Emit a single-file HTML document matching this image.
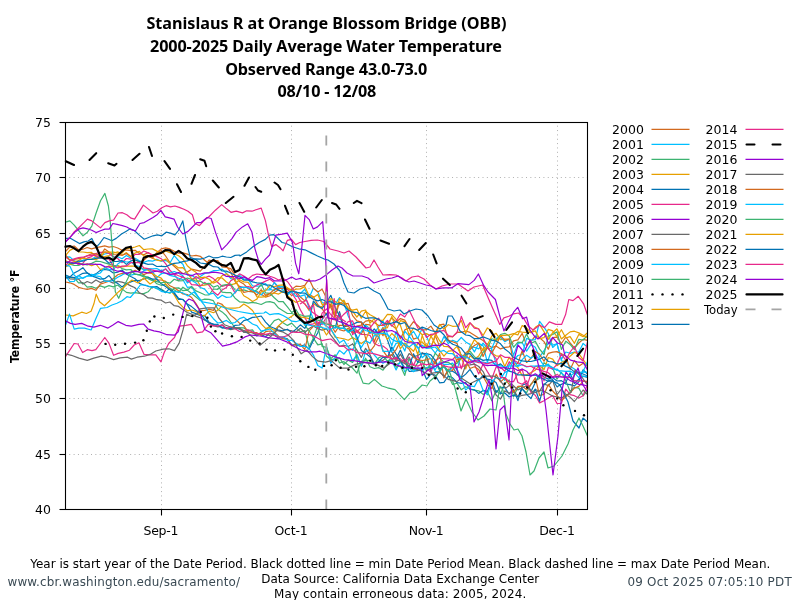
<!DOCTYPE html>
<html><head><meta charset="utf-8"><title>Stanislaus R at Orange Blossom Bridge (OBB)</title>
<style>html,body{margin:0;padding:0;background:#fff;overflow:hidden}svg{display:block}</style>
</head><body>
<svg width="800" height="600" viewBox="0 0 800 600">
<rect width="800" height="600" fill="#fff"/>
<g stroke="#b0b0b0" stroke-width="1" stroke-dasharray="1 3.35" fill="none">
<line x1="65.5" x2="587.5" y1="177.5" y2="177.5" stroke-dashoffset="0.6"/>
<line x1="65.5" x2="587.5" y1="233.5" y2="233.5" stroke-dashoffset="0.6"/>
<line x1="65.5" x2="587.5" y1="288.5" y2="288.5" stroke-dashoffset="0.6"/>
<line x1="65.5" x2="587.5" y1="343.5" y2="343.5" stroke-dashoffset="0.6"/>
<line x1="65.5" x2="587.5" y1="398.5" y2="398.5" stroke-dashoffset="0.6"/>
<line x1="65.5" x2="587.5" y1="454.5" y2="454.5" stroke-dashoffset="0.6"/>
<line x1="161.5" x2="161.5" y1="509.5" y2="122.5"/>
<line x1="291.5" x2="291.5" y1="509.5" y2="122.5"/>
<line x1="426.5" x2="426.5" y1="509.5" y2="122.5"/>
<line x1="557.5" x2="557.5" y1="509.5" y2="122.5"/>
</g>
<polyline points="65.5,251.5 69.8,246.9 74.2,246.0 78.5,249.8 82.9,249.3 87.2,247.5 91.6,248.8 95.9,247.7 100.3,246.8 104.7,245.9 109.0,247.1 113.3,246.5 117.7,248.0 122.0,250.3 126.4,249.8 130.8,250.7 135.1,250.3 139.4,253.4 143.8,254.8 148.1,252.6 152.5,255.5 156.8,253.9 161.2,250.4 165.6,256.0 169.9,262.5 174.2,266.3 178.6,270.2 182.9,273.7 187.3,272.0 191.6,269.2 196.0,270.1 200.3,271.2 204.7,266.4 209.0,260.2 213.4,261.2 217.8,260.5 222.1,266.8 226.4,267.5 230.8,268.6 235.1,275.4 239.5,281.6 243.8,284.1 248.2,288.5 252.5,291.7 256.9,291.5 261.2,294.2 265.6,297.1 269.9,295.7 274.3,292.5 278.6,289.7 283.0,292.1 287.4,291.3 291.7,295.6 296.0,291.6 300.4,297.0 304.8,300.9 309.1,294.4 313.4,296.8 317.8,304.7 322.1,309.0 326.5,314.7 330.8,303.9 335.2,318.2 339.5,329.6 343.9,331.0 348.2,328.3 352.6,333.0 356.9,330.2 361.3,334.2 365.6,324.4 370.0,324.8 374.3,342.0 378.7,330.0 383.0,335.7 387.4,321.7 391.8,325.4 396.1,328.9 400.4,338.8 404.8,329.9 409.1,328.0 413.5,339.1 417.8,337.6 422.2,347.6 426.5,345.0 430.9,347.6 435.2,335.3 439.6,346.6 443.9,342.2 448.3,336.4 452.6,336.8 457.0,332.2 461.3,332.3 465.7,331.0 470.0,332.4 474.4,335.2 478.7,338.0 483.1,340.5 487.4,344.4 491.8,347.6 496.1,346.1 500.5,348.9 504.8,347.4 509.2,346.8 513.5,340.9 517.9,339.8 522.2,333.4 526.6,345.4 531.0,341.3 535.3,336.0 539.6,337.7 544.0,341.6 548.3,349.2 552.7,337.5 557.0,337.2 561.4,343.5 565.8,337.0 570.1,342.9 574.4,348.0 578.8,343.0 583.1,339.4 587.5,340.3" fill="none" stroke="#d2691e" stroke-width="1.2" stroke-linejoin="round" />
<polyline points="65.5,257.1 69.8,256.9 74.2,260.8 78.5,262.4 82.9,260.2 87.2,259.4 91.6,259.0 95.9,256.7 100.3,256.1 104.7,254.0 109.0,253.1 113.3,257.0 117.7,256.8 122.0,258.7 126.4,255.6 130.8,258.3 135.1,258.3 139.4,260.8 143.8,262.4 148.1,260.7 152.5,261.2 156.8,259.4 161.2,261.2 165.6,260.3 169.9,263.0 174.2,255.7 178.6,260.7 182.9,264.3 187.3,275.1 191.6,275.0 196.0,278.5 200.3,276.5 204.7,273.5 209.0,272.6 213.4,270.7 217.8,270.5 222.1,269.1 226.4,273.3 230.8,278.7 235.1,279.9 239.5,275.1 243.8,278.9 248.2,279.5 252.5,285.9 256.9,286.1 261.2,285.8 265.6,283.5 269.9,289.1 274.3,290.7 278.6,286.0 283.0,290.3 287.4,295.0 291.7,291.0 296.0,291.8 300.4,293.5 304.8,289.2 309.1,297.8 313.4,288.1 317.8,291.6 322.1,302.7 326.5,303.5 330.8,300.7 335.2,304.2 339.5,297.6 343.9,302.8 348.2,316.0 352.6,324.7 356.9,340.8 361.3,331.4 365.6,325.3 370.0,328.7 374.3,333.2 378.7,326.9 383.0,320.8 387.4,333.9 391.8,345.9 396.1,331.3 400.4,345.2 404.8,331.2 409.1,336.2 413.5,331.3 417.8,338.6 422.2,328.1 426.5,335.7 430.9,347.6 435.2,353.0 439.6,346.8 443.9,336.5 448.3,343.5 452.6,340.3 457.0,342.1 461.3,337.5 465.7,341.9 470.0,344.6 474.4,351.9 478.7,343.4 483.1,345.7 487.4,362.3 491.8,349.2 496.1,363.7 500.5,373.4 504.8,380.4 509.2,364.5 513.5,360.5 517.9,355.5 522.2,354.5 526.6,338.4 531.0,340.1 535.3,339.7 539.6,321.4 544.0,327.2 548.3,333.6 552.7,347.5 557.0,343.6 561.4,359.4 565.8,352.0 570.1,353.3 574.4,352.2 578.8,351.9 583.1,343.5 587.5,347.1" fill="none" stroke="#00bfff" stroke-width="1.2" stroke-linejoin="round" />
<polyline points="65.5,276.5 69.8,277.7 74.2,277.7 78.5,282.8 82.9,282.7 87.2,287.2 91.6,286.6 95.9,288.3 100.3,285.9 104.7,287.4 109.0,285.6 113.3,286.9 117.7,285.0 122.0,288.9 126.4,292.4 130.8,293.2 135.1,292.6 139.4,293.4 143.8,293.6 148.1,291.8 152.5,286.7 156.8,288.6 161.2,289.1 165.6,292.0 169.9,293.3 174.2,288.1 178.6,287.8 182.9,290.7 187.3,290.1 191.6,293.5 196.0,297.0 200.3,300.5 204.7,299.1 209.0,299.4 213.4,300.7 217.8,309.2 222.1,311.9 226.4,315.8 230.8,322.0 235.1,327.8 239.5,327.7 243.8,327.9 248.2,330.5 252.5,329.8 256.9,336.1 261.2,332.0 265.6,329.7 269.9,326.1 274.3,320.6 278.6,319.0 283.0,322.8 287.4,325.4 291.7,323.1 296.0,327.6 300.4,331.8 304.8,330.5 309.1,347.1 313.4,338.1 317.8,344.9 322.1,343.9 326.5,356.2 330.8,359.7 335.2,358.8 339.5,357.8 343.9,364.5 348.2,360.1 352.6,362.4 356.9,354.8 361.3,366.1 365.6,358.2 370.0,366.7 374.3,368.5 378.7,367.6 383.0,370.2 387.4,364.1 391.8,360.1 396.1,364.6 400.4,362.7 404.8,359.5 409.1,367.6 413.5,369.6 417.8,368.7 422.2,370.2 426.5,355.8 430.9,369.2 435.2,361.8 439.6,370.6 443.9,364.7 448.3,375.5 452.6,384.5 457.0,383.2 461.3,389.8 465.7,386.7 470.0,388.7 474.4,390.1 478.7,390.8 483.1,394.4 487.4,391.8 491.8,400.8 496.1,390.5 500.5,394.2 504.8,383.2 509.2,380.0 513.5,396.9 517.9,387.2 522.2,389.3 526.6,392.7 531.0,384.0 535.3,380.6 539.6,378.4 544.0,362.7 548.3,365.2 552.7,367.8 557.0,379.2 561.4,372.3 565.8,380.6 570.1,391.5 574.4,387.3 578.8,388.1 583.1,395.8 587.5,390.4" fill="none" stroke="#3cb371" stroke-width="1.2" stroke-linejoin="round" />
<polyline points="65.5,255.5 69.8,250.4 74.2,248.3 78.5,251.9 82.9,252.0 87.2,252.7 91.6,252.4 95.9,257.2 100.3,257.8 104.7,256.7 109.0,255.6 113.3,253.2 117.7,251.8 122.0,255.4 126.4,252.6 130.8,256.4 135.1,253.0 139.4,251.4 143.8,256.1 148.1,255.4 152.5,258.1 156.8,260.2 161.2,260.8 165.6,259.1 169.9,263.3 174.2,264.7 178.6,267.9 182.9,267.7 187.3,272.8 191.6,278.8 196.0,278.8 200.3,285.6 204.7,285.1 209.0,284.1 213.4,281.7 217.8,277.7 222.1,278.0 226.4,282.0 230.8,284.8 235.1,283.7 239.5,279.7 243.8,281.9 248.2,282.3 252.5,288.7 256.9,296.9 261.2,297.1 265.6,296.7 269.9,293.5 274.3,293.0 278.6,294.1 283.0,291.4 287.4,295.4 291.7,299.5 296.0,302.4 300.4,300.7 304.8,303.6 309.1,310.5 313.4,303.5 317.8,306.7 322.1,306.3 326.5,300.7 330.8,301.0 335.2,314.8 339.5,298.7 343.9,302.0 348.2,308.0 352.6,310.2 356.9,309.1 361.3,318.2 365.6,311.3 370.0,314.7 374.3,317.1 378.7,320.0 383.0,320.3 387.4,314.4 391.8,314.7 396.1,319.3 400.4,325.4 404.8,338.9 409.1,341.1 413.5,342.1 417.8,354.7 422.2,335.3 426.5,347.4 430.9,336.2 435.2,333.1 439.6,340.7 443.9,346.3 448.3,346.7 452.6,350.1 457.0,362.0 461.3,357.6 465.7,369.0 470.0,355.6 474.4,359.2 478.7,355.9 483.1,348.7 487.4,344.9 491.8,336.0 496.1,333.3 500.5,339.7 504.8,339.1 509.2,339.1 513.5,334.3 517.9,331.4 522.2,332.2 526.6,332.3 531.0,332.5 535.3,330.9 539.6,338.6 544.0,337.7 548.3,329.4 552.7,330.9 557.0,336.7 561.4,329.7 565.8,338.0 570.1,336.6 574.4,343.3 578.8,334.4 583.1,336.7 587.5,332.8" fill="none" stroke="#e69f00" stroke-width="1.2" stroke-linejoin="round" />
<polyline points="65.5,275.0 69.8,276.9 74.2,277.7 78.5,275.8 82.9,273.3 87.2,272.9 91.6,275.2 95.9,273.9 100.3,270.4 104.7,269.5 109.0,270.1 113.3,273.0 117.7,272.1 122.0,270.0 126.4,274.1 130.8,276.5 135.1,278.7 139.4,283.4 143.8,285.0 148.1,286.3 152.5,287.2 156.8,286.6 161.2,289.8 165.6,292.7 169.9,288.1 174.2,292.7 178.6,298.3 182.9,299.7 187.3,304.6 191.6,312.1 196.0,313.6 200.3,315.8 204.7,315.4 209.0,322.4 213.4,324.2 217.8,326.3 222.1,327.2 226.4,328.6 230.8,328.1 235.1,327.8 239.5,329.1 243.8,331.8 248.2,332.9 252.5,332.1 256.9,333.9 261.2,334.6 265.6,336.7 269.9,333.1 274.3,335.1 278.6,338.2 283.0,337.7 287.4,338.9 291.7,345.1 296.0,344.6 300.4,346.2 304.8,344.8 309.1,349.3 313.4,340.2 317.8,332.7 322.1,319.4 326.5,313.5 330.8,324.8 335.2,328.2 339.5,311.7 343.9,326.9 348.2,325.8 352.6,324.5 356.9,322.4 361.3,322.0 365.6,326.9 370.0,333.3 374.3,329.0 378.7,334.1 383.0,327.6 387.4,339.9 391.8,352.0 396.1,358.8 400.4,350.1 404.8,360.5 409.1,371.3 413.5,371.1 417.8,370.7 422.2,368.9 426.5,379.3 430.9,374.1 435.2,375.2 439.6,382.8 443.9,382.3 448.3,376.0 452.6,377.8 457.0,382.5 461.3,383.4 465.7,382.5 470.0,389.5 474.4,389.8 478.7,393.4 483.1,390.4 487.4,391.3 491.8,380.3 496.1,392.7 500.5,387.4 504.8,387.7 509.2,394.2 513.5,389.3 517.9,400.6 522.2,385.3 526.6,383.4 531.0,391.4 535.3,382.4 539.6,374.2 544.0,377.0 548.3,379.1 552.7,377.6 557.0,381.0 561.4,380.6 565.8,384.0 570.1,384.7 574.4,385.9 578.8,381.9 583.1,369.8 587.5,374.1" fill="none" stroke="#0072b2" stroke-width="1.2" stroke-linejoin="round" />
<polyline points="65.5,256.9 69.8,259.9 74.2,261.1 78.5,264.9 82.9,263.2 87.2,258.1 91.6,256.6 95.9,253.5 100.3,252.3 104.7,252.2 109.0,253.3 113.3,256.8 117.7,258.5 122.0,262.6 126.4,258.5 130.8,259.1 135.1,254.4 139.4,254.4 143.8,251.0 148.1,252.9 152.5,254.9 156.8,256.6 161.2,258.7 165.6,263.6 169.9,270.2 174.2,274.3 178.6,280.5 182.9,276.4 187.3,281.4 191.6,280.4 196.0,276.5 200.3,279.6 204.7,277.8 209.0,276.1 213.4,278.6 217.8,282.5 222.1,286.3 226.4,285.1 230.8,285.5 235.1,293.1 239.5,286.4 243.8,287.6 248.2,286.6 252.5,287.9 256.9,284.9 261.2,283.4 265.6,281.1 269.9,279.3 274.3,282.6 278.6,288.3 283.0,288.3 287.4,289.4 291.7,293.0 296.0,299.5 300.4,309.9 304.8,317.8 309.1,324.6 313.4,323.8 317.8,321.9 322.1,324.5 326.5,317.2 330.8,318.8 335.2,319.8 339.5,313.5 343.9,326.6 348.2,321.6 352.6,320.9 356.9,332.2 361.3,334.3 365.6,334.5 370.0,335.3 374.3,343.3 378.7,345.7 383.0,346.0 387.4,349.4 391.8,359.7 396.1,357.4 400.4,358.9 404.8,363.3 409.1,357.1 413.5,365.4 417.8,355.8 422.2,367.2 426.5,368.5 430.9,372.2 435.2,360.3 439.6,358.2 443.9,358.8 448.3,358.9 452.6,359.5 457.0,355.1 461.3,368.8 465.7,355.0 470.0,359.6 474.4,363.9 478.7,374.0 483.1,364.1 487.4,371.6 491.8,378.8 496.1,367.0 500.5,367.3 504.8,371.3 509.2,361.7 513.5,367.7 517.9,382.5 522.2,384.2 526.6,380.8 531.0,392.5 535.3,395.3 539.6,402.9 544.0,400.7 548.3,398.1 552.7,395.6 557.0,403.5 561.4,403.4 565.8,389.0 570.1,394.7 574.4,395.7 578.8,398.0 583.1,395.8 587.5,384.4" fill="none" stroke="#e7298a" stroke-width="1.2" stroke-linejoin="round" />
<polyline points="65.5,276.2 69.8,278.8 74.2,279.2 78.5,278.9 82.9,284.1 87.2,281.5 91.6,283.2 95.9,279.9 100.3,282.6 104.7,280.8 109.0,281.2 113.3,283.1 117.7,281.3 122.0,282.1 126.4,283.6 130.8,285.9 135.1,287.8 139.4,292.9 143.8,294.7 148.1,297.9 152.5,298.1 156.8,299.7 161.2,300.2 165.6,303.0 169.9,302.0 174.2,305.7 178.6,306.4 182.9,309.6 187.3,312.5 191.6,314.1 196.0,316.4 200.3,317.8 204.7,320.3 209.0,322.2 213.4,325.6 217.8,326.9 222.1,324.7 226.4,328.3 230.8,329.6 235.1,328.7 239.5,328.2 243.8,332.4 248.2,331.7 252.5,333.0 256.9,335.2 261.2,333.0 265.6,334.7 269.9,335.3 274.3,333.2 278.6,326.1 283.0,329.1 287.4,330.0 291.7,330.8 296.0,332.0 300.4,328.2 304.8,332.5 309.1,328.5 313.4,325.9 317.8,328.7 322.1,330.1 326.5,328.9 330.8,335.2 335.2,340.9 339.5,346.4 343.9,345.2 348.2,346.5 352.6,343.9 356.9,350.1 361.3,357.4 365.6,348.3 370.0,354.7 374.3,364.1 378.7,362.0 383.0,360.4 387.4,356.3 391.8,354.9 396.1,360.9 400.4,354.1 404.8,361.9 409.1,353.6 413.5,356.6 417.8,355.5 422.2,352.7 426.5,356.2 430.9,371.8 435.2,377.3 439.6,370.9 443.9,376.9 448.3,370.6 452.6,366.5 457.0,374.7 461.3,377.4 465.7,365.0 470.0,364.8 474.4,364.1 478.7,366.5 483.1,371.6 487.4,380.7 491.8,385.3 496.1,395.0 500.5,399.1 504.8,390.9 509.2,393.3 513.5,390.2 517.9,396.9 522.2,395.3 526.6,394.7 531.0,393.6 535.3,389.5 539.6,391.2 544.0,383.9 548.3,385.8 552.7,380.3 557.0,394.7 561.4,389.2 565.8,394.3 570.1,397.2 574.4,401.5 578.8,396.0 583.1,390.0 587.5,394.6" fill="none" stroke="#696969" stroke-width="1.2" stroke-linejoin="round" />
<polyline points="65.5,282.0 69.8,282.8 74.2,284.4 78.5,287.3 82.9,288.5 87.2,289.4 91.6,288.4 95.9,290.3 100.3,284.1 104.7,282.7 109.0,281.3 113.3,278.5 117.7,274.7 122.0,273.4 126.4,273.6 130.8,272.3 135.1,270.2 139.4,272.2 143.8,274.6 148.1,272.7 152.5,273.6 156.8,279.8 161.2,280.0 165.6,281.3 169.9,285.8 174.2,287.7 178.6,290.7 182.9,293.9 187.3,294.5 191.6,297.5 196.0,303.6 200.3,310.9 204.7,310.4 209.0,309.2 213.4,310.4 217.8,302.7 222.1,304.4 226.4,309.7 230.8,315.4 235.1,318.8 239.5,323.2 243.8,325.6 248.2,332.1 252.5,332.5 256.9,332.7 261.2,335.5 265.6,331.7 269.9,331.0 274.3,332.2 278.6,336.2 283.0,338.9 287.4,339.4 291.7,346.0 296.0,344.1 300.4,344.3 304.8,349.7 309.1,330.8 313.4,326.3 317.8,323.6 322.1,322.7 326.5,324.1 330.8,324.2 335.2,332.3 339.5,325.4 343.9,325.3 348.2,326.1 352.6,331.8 356.9,326.0 361.3,325.2 365.6,321.1 370.0,320.4 374.3,322.5 378.7,325.5 383.0,325.3 387.4,323.5 391.8,317.9 396.1,321.9 400.4,318.6 404.8,320.1 409.1,327.7 413.5,321.7 417.8,325.5 422.2,330.1 426.5,329.6 430.9,326.1 435.2,332.8 439.6,324.8 443.9,324.2 448.3,340.1 452.6,341.7 457.0,343.4 461.3,355.8 465.7,360.3 470.0,368.5 474.4,366.8 478.7,369.6 483.1,376.3 487.4,384.3 491.8,388.7 496.1,374.1 500.5,381.9 504.8,378.1 509.2,384.5 513.5,392.4 517.9,386.4 522.2,386.1 526.6,389.5 531.0,384.5 535.3,377.7 539.6,395.5 544.0,394.4 548.3,384.4 552.7,391.0 557.0,395.7 561.4,400.5 565.8,396.8 570.1,392.8 574.4,388.1 578.8,386.4 583.1,381.1 587.5,381.4" fill="none" stroke="#d2691e" stroke-width="1.2" stroke-linejoin="round" />
<polyline points="65.5,275.3 69.8,281.7 74.2,281.3 78.5,275.5 82.9,278.5 87.2,276.0 91.6,274.4 95.9,275.9 100.3,276.7 104.7,281.2 109.0,281.3 113.3,280.3 117.7,277.2 122.0,275.1 126.4,272.6 130.8,275.2 135.1,274.1 139.4,274.9 143.8,270.7 148.1,269.4 152.5,271.7 156.8,277.8 161.2,273.7 165.6,273.0 169.9,275.4 174.2,276.3 178.6,278.3 182.9,279.6 187.3,287.3 191.6,286.9 196.0,293.4 200.3,300.2 204.7,305.7 209.0,313.3 213.4,318.7 217.8,323.0 222.1,322.3 226.4,320.4 230.8,323.4 235.1,322.5 239.5,318.6 243.8,317.1 248.2,320.8 252.5,324.0 256.9,325.6 261.2,331.1 265.6,330.2 269.9,328.9 274.3,333.1 278.6,337.2 283.0,336.8 287.4,340.3 291.7,340.3 296.0,343.3 300.4,346.5 304.8,346.3 309.1,348.5 313.4,355.1 317.8,365.5 322.1,368.1 326.5,346.4 330.8,363.3 335.2,357.5 339.5,350.4 343.9,354.0 348.2,348.8 352.6,361.1 356.9,354.7 361.3,365.9 365.6,351.4 370.0,349.5 374.3,355.0 378.7,359.8 383.0,363.2 387.4,360.6 391.8,360.5 396.1,370.0 400.4,360.7 404.8,371.9 409.1,368.1 413.5,371.7 417.8,367.8 422.2,370.3 426.5,367.6 430.9,366.4 435.2,369.7 439.6,361.8 443.9,364.3 448.3,364.4 452.6,363.2 457.0,369.8 461.3,354.8 465.7,358.6 470.0,346.3 474.4,347.3 478.7,348.9 483.1,343.1 487.4,348.4 491.8,348.3 496.1,338.4 500.5,337.4 504.8,341.7 509.2,339.3 513.5,355.4 517.9,343.4 522.2,342.4 526.6,351.2 531.0,344.4 535.3,347.2 539.6,357.1 544.0,350.7 548.3,343.0 552.7,345.1 557.0,343.7 561.4,360.8 565.8,361.6 570.1,366.3 574.4,369.0 578.8,372.5 583.1,371.9 587.5,372.3" fill="none" stroke="#00bfff" stroke-width="1.2" stroke-linejoin="round" />
<polyline points="65.5,266.4 69.8,264.1 74.2,265.4 78.5,265.5 82.9,263.8 87.2,265.0 91.6,263.4 95.9,261.2 100.3,261.5 104.7,262.9 109.0,264.1 113.3,265.3 117.7,265.5 122.0,268.6 126.4,269.9 130.8,269.5 135.1,274.1 139.4,274.9 143.8,276.9 148.1,276.9 152.5,279.5 156.8,283.8 161.2,285.3 165.6,284.4 169.9,288.5 174.2,289.9 178.6,292.4 182.9,287.2 187.3,290.3 191.6,286.5 196.0,290.9 200.3,292.8 204.7,294.8 209.0,295.0 213.4,289.0 217.8,289.3 222.1,285.4 226.4,284.7 230.8,284.2 235.1,290.0 239.5,290.6 243.8,289.9 248.2,291.3 252.5,291.9 256.9,289.9 261.2,284.3 265.6,292.9 269.9,293.4 274.3,297.7 278.6,301.6 283.0,301.5 287.4,306.8 291.7,312.5 296.0,309.7 300.4,316.9 304.8,325.1 309.1,330.8 313.4,338.1 317.8,325.4 322.1,346.3 326.5,347.3 330.8,358.6 335.2,354.8 339.5,362.9 343.9,361.7 348.2,364.9 352.6,368.1 356.9,373.2 361.3,361.3 365.6,360.4 370.0,360.6 374.3,364.4 378.7,357.8 383.0,355.9 387.4,361.2 391.8,358.1 396.1,367.1 400.4,365.7 404.8,375.4 409.1,358.2 413.5,369.4 417.8,362.6 422.2,361.6 426.5,371.3 430.9,363.1 435.2,353.2 439.6,357.9 443.9,362.4 448.3,362.3 452.6,365.5 457.0,363.3 461.3,358.1 465.7,355.3 470.0,351.1 474.4,356.7 478.7,359.9 483.1,352.2 487.4,348.4 491.8,338.7 496.1,340.0 500.5,334.5 504.8,333.3 509.2,336.0 513.5,347.3 517.9,342.2 522.2,342.7 526.6,334.0 531.0,343.2 535.3,341.4 539.6,349.1 544.0,354.5 548.3,335.8 552.7,334.5 557.0,331.7 561.4,349.4 565.8,341.2 570.1,344.4 574.4,349.6 578.8,339.4 583.1,340.0 587.5,335.3" fill="none" stroke="#3cb371" stroke-width="1.2" stroke-linejoin="round" />
<polyline points="65.5,266.9 69.8,264.4 74.2,263.3 78.5,262.5 82.9,265.0 87.2,263.9 91.6,265.7 95.9,264.0 100.3,269.5 104.7,268.2 109.0,265.8 113.3,266.9 117.7,265.8 122.0,266.9 126.4,266.2 130.8,266.1 135.1,266.1 139.4,268.3 143.8,268.8 148.1,270.3 152.5,273.8 156.8,276.3 161.2,278.1 165.6,283.9 169.9,289.4 174.2,294.9 178.6,302.5 182.9,307.1 187.3,310.8 191.6,310.0 196.0,311.4 200.3,315.3 204.7,315.9 209.0,311.1 213.4,312.7 217.8,310.2 222.1,305.8 226.4,307.8 230.8,308.1 235.1,308.1 239.5,307.5 243.8,304.0 248.2,306.8 252.5,310.5 256.9,317.4 261.2,323.9 265.6,328.4 269.9,327.6 274.3,330.4 278.6,325.7 283.0,321.8 287.4,318.9 291.7,316.3 296.0,313.0 300.4,316.9 304.8,317.7 309.1,318.6 313.4,321.3 317.8,326.1 322.1,327.2 326.5,335.0 330.8,328.5 335.2,337.2 339.5,338.0 343.9,338.8 348.2,340.3 352.6,337.5 356.9,340.1 361.3,343.6 365.6,340.4 370.0,329.1 374.3,333.8 378.7,337.1 383.0,328.3 387.4,327.7 391.8,316.4 396.1,329.2 400.4,320.7 404.8,321.8 409.1,335.0 413.5,328.1 417.8,330.5 422.2,334.7 426.5,333.6 430.9,335.9 435.2,343.7 439.6,350.4 443.9,356.2 448.3,351.1 452.6,350.6 457.0,346.4 461.3,355.7 465.7,358.2 470.0,348.0 474.4,339.6 478.7,344.0 483.1,350.5 487.4,346.7 491.8,353.2 496.1,355.8 500.5,356.4 504.8,366.4 509.2,357.3 513.5,363.9 517.9,367.8 522.2,375.6 526.6,374.7 531.0,372.6 535.3,370.2 539.6,365.3 544.0,369.7 548.3,357.5 552.7,359.1 557.0,365.7 561.4,362.5 565.8,360.5 570.1,356.2 574.4,352.3 578.8,353.6 583.1,359.7 587.5,365.7" fill="none" stroke="#e69f00" stroke-width="1.2" stroke-linejoin="round" />
<polyline points="65.5,278.1 69.8,277.1 74.2,273.0 78.5,270.7 82.9,267.7 87.2,273.1 91.6,275.9 95.9,277.4 100.3,279.1 104.7,278.7 109.0,275.6 113.3,281.0 117.7,283.4 122.0,286.9 126.4,283.6 130.8,281.9 135.1,280.4 139.4,280.5 143.8,278.9 148.1,277.5 152.5,279.1 156.8,279.0 161.2,283.8 165.6,286.6 169.9,289.7 174.2,293.4 178.6,299.4 182.9,299.4 187.3,303.9 191.6,306.6 196.0,310.2 200.3,313.4 204.7,319.3 209.0,323.2 213.4,324.2 217.8,324.4 222.1,328.1 226.4,327.5 230.8,328.8 235.1,325.3 239.5,325.0 243.8,320.6 248.2,319.4 252.5,317.4 256.9,317.0 261.2,316.0 265.6,322.1 269.9,326.5 274.3,328.2 278.6,330.2 283.0,330.8 287.4,329.2 291.7,332.6 296.0,329.2 300.4,324.8 304.8,328.4 309.1,320.6 313.4,301.0 317.8,306.3 322.1,308.4 326.5,302.7 330.8,295.3 335.2,307.4 339.5,315.9 343.9,327.6 348.2,331.6 352.6,328.2 356.9,336.8 361.3,350.4 365.6,353.3 370.0,356.8 374.3,364.4 378.7,361.5 383.0,357.1 387.4,357.7 391.8,347.0 396.1,354.1 400.4,360.8 404.8,368.1 409.1,366.6 413.5,353.8 417.8,362.4 422.2,353.4 426.5,353.5 430.9,354.8 435.2,360.4 439.6,368.6 443.9,367.0 448.3,371.1 452.6,371.2 457.0,373.9 461.3,377.7 465.7,374.1 470.0,369.4 474.4,376.2 478.7,380.5 483.1,375.4 487.4,379.2 491.8,380.0 496.1,382.6 500.5,393.3 504.8,393.0 509.2,397.0 513.5,395.2 517.9,396.8 522.2,388.6 526.6,394.4 531.0,398.5 535.3,389.0 539.6,401.3 544.0,384.6 548.3,380.9 552.7,379.7 557.0,386.8 561.4,384.4 565.8,382.5 570.1,372.9 574.4,383.5 578.8,379.2 583.1,376.1 587.5,377.3" fill="none" stroke="#0072b2" stroke-width="1.2" stroke-linejoin="round" />
<polyline points="65.5,254.8 69.8,260.1 74.2,259.5 78.5,258.6 82.9,258.1 87.2,255.8 91.6,253.7 95.9,253.9 100.3,256.1 104.7,248.9 109.0,252.1 113.3,254.5 117.7,255.0 122.0,255.2 126.4,253.6 130.8,256.7 135.1,259.7 139.4,262.3 143.8,260.3 148.1,256.3 152.5,258.1 156.8,252.6 161.2,248.9 165.6,247.9 169.9,248.9 174.2,251.3 178.6,253.1 182.9,252.8 187.3,254.1 191.6,256.0 196.0,255.4 200.3,256.3 204.7,260.2 209.0,263.7 213.4,260.2 217.8,262.3 222.1,264.4 226.4,266.1 230.8,272.2 235.1,281.5 239.5,286.6 243.8,292.4 248.2,291.5 252.5,291.1 256.9,295.0 261.2,289.6 265.6,295.4 269.9,293.4 274.3,289.5 278.6,288.4 283.0,288.0 287.4,288.9 291.7,289.5 296.0,286.1 300.4,286.5 304.8,285.3 309.1,279.1 313.4,288.3 317.8,292.0 322.1,289.3 326.5,298.1 330.8,307.4 335.2,316.7 339.5,302.4 343.9,304.2 348.2,303.4 352.6,315.6 356.9,320.9 361.3,322.1 365.6,338.4 370.0,351.5 374.3,345.8 378.7,336.7 383.0,350.7 387.4,356.9 391.8,354.8 396.1,349.6 400.4,341.3 404.8,345.7 409.1,349.1 413.5,357.3 417.8,359.6 422.2,360.5 426.5,359.9 430.9,358.3 435.2,363.8 439.6,353.4 443.9,377.9 448.3,369.0 452.6,370.5 457.0,359.3 461.3,358.4 465.7,352.9 470.0,349.5 474.4,345.4 478.7,342.9 483.1,356.5 487.4,347.0 491.8,352.9 496.1,345.4 500.5,335.5 504.8,340.4 509.2,339.0 513.5,364.0 517.9,363.3 522.2,350.8 526.6,362.5 531.0,358.2 535.3,351.5 539.6,354.2 544.0,361.3 548.3,353.3 552.7,352.2 557.0,351.6 561.4,353.8 565.8,356.0 570.1,369.4 574.4,360.5 578.8,366.2 583.1,363.2 587.5,366.2" fill="none" stroke="#d2691e" stroke-width="1.2" stroke-linejoin="round" />
<polyline points="65.5,265.4 69.8,266.1 74.2,275.2 78.5,278.4 82.9,277.8 87.2,276.0 91.6,276.5 95.9,274.3 100.3,273.0 104.7,267.7 109.0,269.4 113.3,269.9 117.7,264.0 122.0,261.1 126.4,262.0 130.8,261.9 135.1,265.3 139.4,266.5 143.8,270.0 148.1,268.7 152.5,268.8 156.8,268.5 161.2,270.9 165.6,269.0 169.9,273.0 174.2,271.5 178.6,273.3 182.9,275.7 187.3,283.0 191.6,280.3 196.0,283.0 200.3,287.5 204.7,289.1 209.0,294.3 213.4,293.2 217.8,298.4 222.1,295.2 226.4,297.4 230.8,297.0 235.1,292.4 239.5,287.7 243.8,287.2 248.2,287.9 252.5,289.9 256.9,292.3 261.2,295.0 265.6,289.8 269.9,289.9 274.3,282.5 278.6,286.8 283.0,286.7 287.4,294.6 291.7,291.6 296.0,296.4 300.4,296.2 304.8,294.9 309.1,308.4 313.4,319.2 317.8,325.0 322.1,322.7 326.5,326.2 330.8,329.3 335.2,335.9 339.5,342.7 343.9,340.1 348.2,347.3 352.6,350.3 356.9,340.5 361.3,347.4 365.6,340.7 370.0,343.1 374.3,335.5 378.7,336.0 383.0,351.4 387.4,351.3 391.8,351.1 396.1,343.4 400.4,342.3 404.8,351.0 409.1,336.0 413.5,342.2 417.8,347.4 422.2,357.7 426.5,353.7 430.9,358.8 435.2,371.4 439.6,371.9 443.9,366.1 448.3,371.3 452.6,367.0 457.0,368.7 461.3,379.0 465.7,390.1 470.0,385.9 474.4,386.6 478.7,378.7 483.1,390.2 487.4,394.9 491.8,381.8 496.1,377.3 500.5,379.0 504.8,372.4 509.2,370.6 513.5,360.2 517.9,366.4 522.2,359.6 526.6,355.2 531.0,358.2 535.3,355.1 539.6,359.2 544.0,366.0 548.3,364.1 552.7,369.5 557.0,369.0 561.4,373.3 565.8,376.6 570.1,376.4 574.4,372.6 578.8,377.6 583.1,371.7 587.5,361.5" fill="none" stroke="#00bfff" stroke-width="1.2" stroke-linejoin="round" />
<polyline points="65.5,260.5 69.8,263.1 74.2,261.8 78.5,260.6 82.9,258.1 87.2,259.1 91.6,259.1 95.9,259.7 100.3,257.3 104.7,251.9 109.0,252.1 113.3,252.2 117.7,253.1 122.0,253.1 126.4,248.3 130.8,248.1 135.1,247.0 139.4,245.5 143.8,249.7 148.1,249.0 152.5,248.9 156.8,251.1 161.2,253.5 165.6,251.0 169.9,252.7 174.2,253.8 178.6,255.7 182.9,259.2 187.3,265.7 191.6,269.5 196.0,272.3 200.3,277.9 204.7,277.1 209.0,279.2 213.4,283.2 217.8,281.0 222.1,275.7 226.4,273.7 230.8,277.0 235.1,279.4 239.5,288.7 243.8,295.7 248.2,298.3 252.5,301.5 256.9,299.1 261.2,291.8 265.6,290.6 269.9,285.4 274.3,286.8 278.6,285.4 283.0,284.8 287.4,287.8 291.7,291.0 296.0,289.2 300.4,288.9 304.8,286.6 309.1,295.7 313.4,297.6 317.8,294.5 322.1,304.4 326.5,304.2 330.8,298.6 335.2,301.4 339.5,304.9 343.9,300.1 348.2,309.2 352.6,311.2 356.9,317.1 361.3,311.2 365.6,310.0 370.0,323.2 374.3,318.6 378.7,329.6 383.0,331.8 387.4,339.5 391.8,333.5 396.1,337.4 400.4,348.7 404.8,343.0 409.1,347.2 413.5,351.3 417.8,343.4 422.2,341.9 426.5,346.9 430.9,347.4 435.2,336.7 439.6,324.4 443.9,329.2 448.3,324.7 452.6,326.3 457.0,326.1 461.3,320.4 465.7,333.6 470.0,323.0 474.4,327.0 478.7,328.8 483.1,335.5 487.4,327.9 491.8,331.1 496.1,341.7 500.5,335.7 504.8,335.3 509.2,334.9 513.5,333.7 517.9,334.9 522.2,325.6 526.6,327.9 531.0,332.9 535.3,327.3 539.6,324.6 544.0,331.6 548.3,339.3 552.7,332.7 557.0,328.8 561.4,339.0 565.8,335.3 570.1,331.9 574.4,331.2 578.8,332.9 583.1,335.2 587.5,337.6" fill="none" stroke="#e69f00" stroke-width="1.2" stroke-linejoin="round" />
<polyline points="65.5,265.7 69.8,260.7 74.2,258.9 78.5,257.7 82.9,257.2 87.2,255.9 91.6,255.1 95.9,255.4 100.3,258.2 104.7,258.3 109.0,259.2 113.3,265.8 117.7,268.0 122.0,266.1 126.4,265.9 130.8,262.7 135.1,262.6 139.4,262.7 143.8,267.9 148.1,268.7 152.5,270.2 156.8,271.2 161.2,272.5 165.6,268.9 169.9,274.5 174.2,273.8 178.6,275.7 182.9,277.1 187.3,279.2 191.6,284.6 196.0,284.9 200.3,286.1 204.7,282.4 209.0,285.3 213.4,291.8 217.8,295.2 222.1,290.0 226.4,287.4 230.8,280.7 235.1,278.3 239.5,273.8 243.8,276.1 248.2,279.0 252.5,275.4 256.9,274.0 261.2,274.7 265.6,274.7 269.9,276.3 274.3,277.8 278.6,280.0 283.0,278.3 287.4,281.5 291.7,287.4 296.0,293.5 300.4,300.6 304.8,304.1 309.1,309.2 313.4,304.7 317.8,328.9 322.1,313.1 326.5,309.0 330.8,314.5 335.2,318.9 339.5,319.2 343.9,314.2 348.2,310.3 352.6,334.6 356.9,331.6 361.3,327.7 365.6,328.7 370.0,327.9 374.3,322.4 378.7,318.2 383.0,325.7 387.4,320.4 391.8,326.1 396.1,321.3 400.4,314.0 404.8,317.0 409.1,310.0 413.5,318.9 417.8,328.0 422.2,329.3 426.5,337.4 430.9,334.3 435.2,333.8 439.6,331.4 443.9,330.3 448.3,335.5 452.6,336.6 457.0,332.8 461.3,316.3 465.7,327.7 470.0,322.7 474.4,328.1 478.7,329.0 483.1,337.9 487.4,347.1 491.8,353.4 496.1,358.7 500.5,377.7 504.8,377.5 509.2,381.7 513.5,381.6 517.9,373.5 522.2,369.2 526.6,387.1 531.0,373.7 535.3,366.4 539.6,366.3 544.0,380.9 548.3,367.5 552.7,368.8 557.0,364.5 561.4,354.1 565.8,360.2 570.1,352.0 574.4,346.5 578.8,357.5 583.1,361.0 587.5,342.0" fill="none" stroke="#e7298a" stroke-width="1.2" stroke-linejoin="round" />
<polyline points="300.0,304.0 306.5,300.0 312.0,312.0 318.0,316.0 323.7,318.0 326.7,279.7 329.7,333.0 334.2,298.5 335.7,315.0 340.0,318.0 346.0,322.0" fill="none" stroke="#e7298a" stroke-width="1.2" stroke-linejoin="round" />
<polyline points="65.5,262.0 69.8,263.1 74.2,263.3 78.5,261.0 82.9,261.2 87.2,259.5 91.6,259.5 95.9,258.4 100.3,257.6 104.7,259.3 109.0,263.3 113.3,261.5 117.7,261.3 122.0,260.6 126.4,264.4 130.8,260.9 135.1,260.0 139.4,261.5 143.8,263.2 148.1,264.3 152.5,264.0 156.8,266.5 161.2,266.3 165.6,266.7 169.9,264.9 174.2,263.4 178.6,262.9 182.9,261.7 187.3,260.9 191.6,259.2 196.0,258.9 200.3,259.2 204.7,258.0 209.0,256.0 213.4,257.8 217.8,257.7 222.1,256.2 226.4,257.0 230.8,257.5 235.1,255.4 239.5,255.0 240.0,256.0 246.7,251.9 252.9,246.7 259.2,242.5 265.4,239.4 269.6,235.2 273.8,234.6 277.9,238.3 282.1,242.5 286.2,243.5 292.5,246.7 298.8,248.8 305.0,249.8 311.2,252.9 317.5,256.0 323.8,258.8 328.0,260.0 334.0,264.0 340.0,271.0 344.0,283.0 348.0,292.0 354.0,293.0 360.0,289.0 368.0,287.0 374.0,291.0 380.0,294.0 384.0,301.0 388.0,309.0 394.0,311.0 400.0,310.0 404.0,314.0 410.0,311.0 416.0,309.0 422.0,310.0 428.0,316.0 434.0,325.0 440.0,329.0 446.0,325.0 448.0,316.0 452.0,316.0 456.0,323.0 460.0,331.0 461.3,331.7 465.7,335.0 470.0,335.7 474.4,338.7 478.7,338.6 483.1,336.9 487.4,338.5 491.8,340.3 496.1,340.9 500.5,343.8 504.8,349.0 509.2,352.4 513.5,357.3 517.9,359.5 522.2,360.9 526.6,361.3 531.0,361.5 535.3,360.3 539.6,359.3 544.0,356.8 548.3,361.5 552.7,361.9 557.0,364.0 561.4,363.3 565.8,366.4 570.1,368.4 574.4,371.9 578.8,372.7 583.1,374.0 587.5,376.0" fill="none" stroke="#0072b2" stroke-width="1.2" stroke-linejoin="round" />
<polyline points="65.5,238.4 66.4,238.4 70.8,238.4 75.1,241.0 79.5,243.6 83.9,241.9 88.2,241.0 91.8,238.4 96.1,247.1 99.6,243.6 104.0,237.5 108.4,239.2 111.9,240.7 116.2,238.4 121.5,234.0 125.9,231.4 130.2,228.8 134.6,230.8 139.0,234.9 144.2,239.2 148.6,237.5 153.0,235.8 157.4,234.9 161.8,235.8 166.1,232.2 170.5,233.1 174.9,234.9 178.4,230.5 182.8,220.9 186.2,240.4 190.4,258.1 191.6,257.8 196.0,259.7 200.3,263.0 204.7,263.7 209.0,264.4 213.4,266.7 217.8,267.0 222.1,271.0 226.4,271.1 230.8,273.0 235.1,275.3 239.5,276.8 243.8,280.1 248.2,279.9 252.5,281.9 256.9,282.9 261.2,283.1 265.6,284.9 269.9,285.1 274.3,287.7 278.6,290.1 283.0,292.2 287.4,293.0 291.7,291.0 296.0,292.3 300.4,292.9 304.8,293.1 309.1,296.4 313.4,299.3 317.8,300.9 322.1,299.5 326.5,301.5 330.8,301.9 335.2,304.3 339.5,303.7 343.9,305.5 348.2,310.0 352.6,312.2 356.9,312.6 361.3,315.9 365.6,318.3 370.0,317.9 374.3,317.9 378.7,319.4 383.0,322.8 387.4,324.2 391.8,323.1 396.1,321.6 400.4,323.9 404.8,322.5 409.1,327.9 413.5,328.3 417.8,330.3 422.2,327.1 426.5,328.8 430.9,330.5 435.2,331.6 439.6,330.8 443.9,334.8 448.3,340.9 452.6,344.3 457.0,345.8 461.3,348.3 465.7,354.1 470.0,353.7 474.4,358.8 478.7,358.1 483.1,360.4 487.4,359.7 491.8,360.3 496.1,366.0 500.5,363.9 504.8,368.0 509.2,371.1 513.5,372.4 517.9,374.8 522.2,374.8 526.6,375.3 531.0,375.3 535.3,375.1 539.6,377.5 544.0,379.3 548.3,381.2 552.7,381.1 557.0,383.1 560.0,385.0 568.0,402.0 573.0,421.0 579.0,428.0 583.0,418.0 587.5,422.0" fill="none" stroke="#0072b2" stroke-width="1.2" stroke-linejoin="round" />
<polyline points="65.5,222.0 66.4,221.8 69.9,220.9 74.2,225.2 78.6,230.5 83.0,235.8 87.4,232.2 91.8,226.1 96.1,213.0 100.5,200.8 104.9,193.4 108.4,206.0 110.1,220.0 112.8,255.0 115.3,291.7 118.7,298.3 123.7,286.7 128.7,276.7 132.0,271.7 135.1,274.4 139.4,274.5 143.8,275.6 148.1,278.6 152.5,280.6 156.8,281.7 161.2,282.9 165.6,282.0 169.9,283.2 174.2,279.3 178.6,280.9 182.9,280.6 187.3,278.0 191.6,279.4 196.0,281.2 200.3,280.9 204.7,283.9 209.0,283.3 213.4,287.1 217.8,285.5 222.1,292.1 226.4,292.6 230.8,292.7 235.1,298.2 239.5,301.8 243.8,302.2 248.2,303.2 252.5,302.4 256.9,303.2 261.2,304.5 265.6,302.2 269.9,301.7 274.3,302.9 278.6,308.1 283.0,310.8 287.4,313.5 291.7,313.5 296.0,315.0 300.4,314.8 304.8,316.3 309.1,315.8 313.4,319.8 317.8,320.1 322.1,321.4 326.5,324.0 330.8,325.3 335.2,325.5 339.5,327.9 343.9,328.7 348.0,330.0 353.8,340.0 355.6,351.2 359.4,373.8 363.1,383.1 368.8,384.0 374.4,379.4 381.9,386.0 387.5,387.8 395.0,389.7 404.4,399.6 410.0,392.9 415.6,391.6 422.2,385.0 426.9,386.0 430.0,381.0 436.0,376.0 444.0,366.0 450.0,373.0 455.0,388.0 461.0,411.0 466.0,399.0 472.0,412.0 478.0,420.0 484.0,416.0 490.0,409.0 496.0,410.0 500.0,386.0 503.0,390.0 506.0,414.0 510.0,424.0 514.0,430.0 518.0,429.0 522.0,436.0 526.0,452.0 530.0,475.0 534.0,471.0 539.0,458.0 544.0,452.0 548.0,468.0 554.0,466.0 562.0,456.0 568.0,444.0 573.0,430.0 579.0,418.0 583.0,426.0 587.5,436.0" fill="none" stroke="#3cb371" stroke-width="1.2" stroke-linejoin="round" />
<polyline points="65.5,315.0 65.8,315.0 73.2,315.9 81.7,312.2 86.4,313.5 91.1,311.2 93.9,303.8 96.2,294.2 99.5,301.7 104.5,305.8 108.7,301.7 113.7,296.7 118.7,291.7 123.7,287.5 127.8,283.3 132.0,280.0 138.0,283.0 144.0,278.0 150.0,284.0 156.0,280.0" fill="none" stroke="#e69f00" stroke-width="1.2" stroke-linejoin="round" />
<polyline points="65.5,324.0 65.8,324.4 69.5,314.1 74.2,329.1 78.9,328.1 84.5,328.1 91.1,330.0 95.8,318.8 100.4,308.4 107.0,307.5 112.0,305.0 117.0,303.3 122.0,300.8 127.0,296.7 130.3,297.5 135.3,291.7 140.3,285.0 145.3,285.0 150.3,286.7 155.3,287.5 162.0,291.7 168.7,292.5 175.3,291.7 182.0,292.5 188.0,296.0 194.0,292.0 202.5,301.8 214.5,304.0 226.5,308.5 238.5,311.5 252.0,313.8 264.0,313.0 265.6,311.8 269.9,314.7 274.3,313.9 278.6,313.6 283.0,315.5 287.4,318.1 291.7,321.2 296.0,321.7 300.4,320.2 304.8,324.2 309.1,325.1 313.4,326.0 317.8,326.4 322.1,327.6 326.5,328.8 330.8,329.2 335.2,327.0 339.5,328.6 343.9,327.8 348.2,332.4 352.6,330.0 356.9,326.6 361.3,328.2 365.6,330.5 370.0,331.8 374.3,333.8 378.7,333.6 383.0,333.1 387.4,334.3 391.8,339.2 396.1,341.4 400.4,341.4 404.8,344.6 409.1,347.0 413.5,343.5 417.8,348.0 422.2,345.2 426.5,348.4 430.9,347.9 435.2,347.0 439.6,351.7 443.9,350.4 448.3,353.5 452.6,353.7 457.0,357.9 461.3,356.6 465.7,356.8 470.0,359.3 474.4,362.0 478.7,361.7 483.1,362.0 487.4,363.0 491.8,362.3 496.1,365.0 500.5,365.8 504.8,367.2 509.2,365.8 513.5,366.0 517.9,366.2 522.2,364.7 526.6,367.0 531.0,366.1 535.3,366.2 539.6,365.6 544.0,365.8 548.3,365.9 552.7,367.5 557.0,370.5 561.4,370.9 565.8,371.3 570.1,371.1 574.4,373.2 578.8,373.5 583.1,376.7 587.5,376.0" fill="none" stroke="#00bfff" stroke-width="1.2" stroke-linejoin="round" />
<polyline points="65.5,356.5 65.8,356.2 69.5,350.6 74.2,343.5 77.9,344.0 82.6,352.5 87.3,349.7 92.0,350.6 95.8,349.7 100.4,343.5 104.8,337.5 108.9,343.1 113.6,355.3 118.2,353.4 123.9,352.1 129.5,350.2 134.2,345.0 138.9,342.8 144.1,354.4 150.1,354.8 155.8,354.9 161.0,361.9 164.2,352.5 168.9,343.1 174.5,337.5 179.2,326.2 185.8,325.3 191.4,324.4 197.0,332.8 202.6,331.9 208.2,324.4 209.0,324.4 213.4,325.9 217.8,325.8 222.1,325.0 226.4,328.6 230.8,326.9 235.1,328.8 239.5,331.5 243.8,330.5 248.2,329.8 252.5,332.0 256.9,333.6 261.2,333.7 265.6,334.4 269.9,333.3 274.3,335.4 278.6,337.1 283.0,337.0 287.4,335.7 291.7,332.0 296.0,332.3 300.4,332.3 304.8,334.1 309.1,334.7 313.4,335.7 317.8,338.3 322.1,340.6 326.5,339.7 330.8,339.0 335.2,342.4 339.5,346.3 343.9,346.2 348.2,350.1 352.6,349.1 356.9,352.7 361.3,352.8 365.6,353.6 370.0,352.8 374.3,353.8 378.7,355.1 383.0,356.4 387.4,356.9 391.8,358.9 396.1,358.1 400.4,361.7 404.8,359.2 409.1,364.2 413.5,364.9 417.8,366.1 422.2,363.9 426.5,364.7 430.9,364.1 435.2,366.3 439.6,363.7 443.9,365.8 448.3,366.9 452.6,367.7 457.0,366.9 461.3,367.5 465.7,364.8 470.0,361.3 474.4,361.0 478.7,362.6 483.1,362.9 487.4,363.9 491.8,362.1 496.1,361.1 500.5,354.8 504.8,357.3 509.2,357.4 513.5,360.1 517.9,362.7 522.2,364.7 526.6,366.5 531.0,366.3 535.3,369.0 539.6,369.9 544.0,371.4 548.3,372.7 552.7,377.0 557.0,374.5 561.4,376.8 565.8,377.0 570.1,377.6 574.4,380.7 578.8,381.2 583.1,380.4 587.5,383.0" fill="none" stroke="#e7298a" stroke-width="1.2" stroke-linejoin="round" />
<polyline points="65.5,354.0 65.8,354.0 71.4,355.3 78.9,358.1 87.3,360.4 93.9,358.1 101.4,356.2 107.0,357.2 113.6,359.6 120.1,357.8 127.6,357.2 131.4,359.1 137.0,357.2 144.5,356.2 150.1,354.4 155.8,351.0 163.2,349.1 168.9,348.8 174.5,350.6 179.2,343.1 183.0,330.0 186.7,314.1 191.4,316.5 197.0,314.1 200.0,308.8 207.5,307.8 214.0,307.8 218.8,318.0 224.4,324.7 231.9,327.5 239.4,328.4 246.9,332.2 254.4,338.8 260.0,345.3 265.6,340.6 271.2,336.0 276.9,330.3 283.4,332.2 288.1,335.0 293.8,340.6 297.5,348.1 301.2,353.8 306.9,350.0 312.5,356.6 318.1,361.2 325.6,362.1 331.2,360.6 339.7,368.1 348.1,368.1 355.6,364.4 363.1,362.5 370.6,363.4 376.2,364.4 383.8,368.1 391.2,362.5 398.8,360.2 406.2,364.4 413.8,368.1 421.2,371.0 425.0,372.5 428.8,374.7 432.5,373.1 439.4,372.2 443.8,375.6 448.1,379.4 452.5,380.3 456.9,381.6 461.2,378.1 465.0,380.6 470.0,383.8 477.5,380.0 485.0,376.2 494.4,376.2 500.0,380.0 505.6,388.4 511.2,383.8 518.0,390.0 526.0,386.0 534.0,393.0 542.0,390.0 552.5,396.0 561.9,397.8 571.2,392.2 575.0,370.0 582.5,378.0 587.5,385.0" fill="none" stroke="#696969" stroke-width="1.2" stroke-linejoin="round" />
<polyline points="65.5,321.0 65.8,321.0 70.4,323.4 75.1,324.4 81.7,323.4 88.2,326.2 93.9,327.2 100.4,325.3 108.0,328.1 112.6,325.3 118.2,321.6 125.8,325.3 131.4,326.2 138.9,324.4 143.6,324.0 148.2,329.1 153.9,330.9 159.5,331.9 167.0,334.7 174.5,335.2 178.2,331.9 182.0,316.9 185.8,301.9 189.0,299.0 193.5,301.0 199.5,310.0 204.7,329.4 211.2,333.1 216.9,339.7 222.5,346.2 230.0,344.4 237.5,341.6 245.0,336.9 250.6,335.0 260.0,336.0 269.4,337.8 278.8,338.8 286.2,341.6 293.8,346.2 301.2,350.0 308.8,351.9 316.2,351.9 320.0,351.2 327.5,354.0 335.0,356.9 344.4,359.7 353.8,360.6 363.1,362.1 372.5,363.4 378.1,362.5 385.6,361.6 395.0,364.4 402.5,367.2 411.9,368.1 421.2,368.1 422.2,375.6 428.0,370.0 436.0,366.0 444.0,362.0 450.0,360.0 454.0,360.0 460.0,380.0 466.0,384.0 470.0,386.0 474.0,422.0 479.0,412.0 484.0,396.0 489.0,380.0 492.0,396.0 496.0,449.0 500.0,410.0 504.4,405.6 509.0,440.0 512.0,378.0 514.0,360.0 518.0,345.0 524.0,352.0 530.0,340.0 536.0,355.0 542.0,380.0 546.0,410.0 553.0,475.0 558.0,436.0 562.0,390.0 566.0,372.0 572.0,380.0 578.0,368.0 583.0,385.0 587.5,392.0" fill="none" stroke="#9400d3" stroke-width="1.2" stroke-linejoin="round" />
<polyline points="65.5,241.5 66.4,240.7 69.9,237.5 74.2,231.9 79.5,227.0 83.9,222.6 87.4,219.1 91.8,220.9 96.1,224.4 100.5,227.9 104.9,222.6 109.2,220.9 113.6,220.0 118.0,213.0 122.4,212.7 126.8,214.8 131.1,218.2 134.6,219.1 139.0,212.1 143.4,205.1 147.8,208.6 153.0,213.0 157.4,211.2 161.8,207.8 166.1,205.7 170.5,206.9 174.9,206.0 179.2,207.4 184.5,209.5 188.0,211.2 192.4,214.8 195.0,223.5 199.4,225.6 204.0,220.6 209.2,216.5 215.4,210.2 221.7,204.6 225.8,208.1 231.0,212.3 236.2,211.2 242.5,212.9 246.7,210.8 251.9,211.2 256.0,209.8 261.2,208.1 265.4,220.6 268.5,235.2 271.7,246.7 275.8,244.6 280.0,247.7 283.1,250.8 287.3,240.4 291.5,239.4 295.6,244.6 299.8,242.5 305.0,241.5 311.2,240.4 317.5,240.0 323.8,241.5 330.0,249.0 338.0,251.0 344.0,253.0 349.0,251.0 356.0,257.0 366.0,268.0 370.0,267.0 374.0,260.0 378.0,267.0 383.0,275.0 390.0,274.6 396.0,275.0 402.0,278.0 406.0,281.0 412.0,277.0 418.0,276.0 424.0,279.0 430.0,285.0 436.0,289.0 442.0,286.0 450.0,284.0 458.0,284.0 468.0,291.0 474.0,287.0 482.7,285.0 488.0,297.4 494.1,311.4 499.8,324.4 503.9,317.9 508.8,316.2 513.6,313.8 518.5,313.0 523.4,317.9 528.2,326.0 533.1,330.0 539.6,325.2 544.5,327.6 549.4,321.9 555.9,324.4 561.6,324.4 565.6,314.6 568.8,299.5 573.0,300.6 578.3,296.3 583.6,303.8 587.5,315.0" fill="none" stroke="#e7298a" stroke-width="1.2" stroke-linejoin="round" />
<polyline points="65.5,262.0 69.8,261.8 74.2,263.2 78.5,263.3 82.9,264.6 87.2,264.2 91.6,264.1 95.9,264.4 100.3,264.4 104.7,266.6 109.0,266.8 113.3,269.8 117.7,271.2 122.0,271.4 126.4,273.6 130.8,272.0 135.1,271.3 139.4,271.9 143.8,272.1 148.1,272.9 152.5,272.0 156.8,271.1 161.2,271.2 165.6,273.2 169.9,274.4 174.2,273.9 178.6,272.7 182.9,273.7 187.3,274.5 191.6,275.9 196.0,273.7 200.3,274.2 204.7,272.9 209.0,272.8 213.4,272.1 217.8,272.7 222.1,273.5 226.4,276.4 230.8,276.6 235.1,276.7 239.5,278.6 243.8,276.9 248.2,279.1 252.5,280.3 256.9,276.7 261.2,277.4 265.6,278.6 269.9,277.7 274.3,280.8 278.6,280.9 283.0,281.0 287.4,279.3 291.7,277.1 296.0,279.5 300.4,278.4 304.8,280.3 309.1,281.2 313.4,280.9 315.0,281.0 320.0,279.0 326.0,275.0 332.0,270.0 338.0,266.0 342.0,268.0 347.0,273.0 353.0,276.0 362.0,276.0 368.0,278.0 374.0,283.0 380.0,281.0 386.0,279.0 392.0,278.0 398.0,276.0 404.0,280.0 409.0,282.0 414.0,281.0 420.0,283.0 426.0,285.0 431.0,286.0 436.0,288.9 443.4,287.8 451.9,287.8 458.2,283.6 468.9,284.6 474.2,280.4 478.4,274.0 483.8,285.7 488.0,292.0 495.4,299.5 499.8,316.2 503.9,330.9 508.8,321.1 513.6,312.2 517.7,307.3 522.6,318.7 526.6,317.1 529.9,330.0 534.8,336.6 538.0,339.0 544.5,333.3 548.6,343.9 552.6,337.4 557.5,343.0 562.4,344.7 564.8,355.2 570.5,360.1 577.0,361.8 583.5,362.6 587.5,369.9" fill="none" stroke="#9400d3" stroke-width="1.2" stroke-linejoin="round" />
<polyline points="65.5,242.0 66.4,241.0 70.8,236.6 75.1,231.9 79.5,228.8 83.0,227.9 87.4,228.8 91.8,230.2 96.1,232.6 100.5,230.8 104.9,229.1 109.2,229.1 112.8,223.5 117.1,224.4 122.4,225.6 126.8,227.0 131.1,229.6 135.5,230.8 139.9,223.5 144.2,222.6 148.6,220.0 153.0,217.4 157.4,214.4 160.9,210.4 165.2,216.8 169.6,217.9 174.0,219.1 177.5,227.0 182.8,234.0 188.0,231.4 192.4,227.0 196.8,222.6 200.8,222.7 207.1,217.5 211.2,218.5 215.4,232.1 221.7,249.8 226.9,244.6 232.1,238.3 236.2,232.1 242.5,226.9 247.7,223.8 251.9,232.1 255.0,248.8 258.1,259.2 261.2,264.4 265.4,259.2 269.6,255.0 275.8,235.2 282.1,234.2 287.3,233.1 292.5,242.5 295.6,263.3 298.8,273.8 301.9,246.7 305.0,215.4 309.2,219.6 313.3,229.0 317.5,226.9 322.7,221.7 325.8,262.0 328.0,318.0 330.8,318.3 335.2,319.2 339.5,321.7 343.9,322.9 348.2,325.1 352.6,326.8 356.9,326.3 361.3,327.1 365.6,327.8 370.0,329.2 374.3,332.1 378.7,332.4 383.0,330.2 387.4,331.1 391.8,330.5 396.1,332.8 400.4,336.2 404.8,341.2 409.1,342.5 413.5,343.1 417.8,342.5 422.2,347.8 426.5,347.4 430.9,346.2 435.2,345.2 439.6,345.6 443.9,343.3 448.3,345.3 452.6,349.9 457.0,353.0 461.3,356.6 465.7,361.4 470.0,363.2 474.4,360.4 478.7,360.0 483.1,364.6 487.4,365.7 491.8,365.2 496.1,365.5 500.5,368.2 504.8,367.5 509.2,368.5 513.5,368.0 517.9,370.6 522.2,369.0 526.6,371.2 531.0,376.3 535.3,373.8 539.6,376.4 544.0,374.6 548.3,375.7 552.7,377.4 557.0,376.7 561.4,377.0 565.8,377.2 570.1,380.6 574.4,382.0 578.8,384.4 583.1,384.8 587.5,386.0" fill="none" stroke="#9400d3" stroke-width="1.2" stroke-linejoin="round" />
<circle cx="105.6" cy="343.9" r="1.2" fill="#000"/>
<circle cx="115.2" cy="344.7" r="1.2" fill="#000"/>
<circle cx="125.0" cy="343.8" r="1.2" fill="#000"/>
<circle cx="135.1" cy="342.6" r="1.2" fill="#000"/>
<circle cx="143.4" cy="340.3" r="1.2" fill="#000"/>
<circle cx="146.8" cy="330.8" r="1.2" fill="#000"/>
<circle cx="149.8" cy="321.4" r="1.2" fill="#000"/>
<circle cx="154.4" cy="316.5" r="1.2" fill="#000"/>
<circle cx="163.8" cy="318.0" r="1.2" fill="#000"/>
<circle cx="173.2" cy="314.6" r="1.2" fill="#000"/>
<circle cx="182.6" cy="316.9" r="1.2" fill="#000"/>
<circle cx="192.3" cy="316.1" r="1.2" fill="#000"/>
<circle cx="200.8" cy="311.9" r="1.2" fill="#000"/>
<circle cx="207.4" cy="317.7" r="1.2" fill="#000"/>
<circle cx="210.9" cy="326.6" r="1.2" fill="#000"/>
<circle cx="215.4" cy="331.2" r="1.2" fill="#000"/>
<circle cx="222.1" cy="333.5" r="1.2" fill="#000"/>
<circle cx="231.9" cy="336.3" r="1.2" fill="#000"/>
<circle cx="241.6" cy="336.9" r="1.2" fill="#000"/>
<circle cx="250.2" cy="340.6" r="1.2" fill="#000"/>
<circle cx="259.6" cy="343.4" r="1.2" fill="#000"/>
<circle cx="266.6" cy="349.6" r="1.2" fill="#000"/>
<circle cx="275.0" cy="350.4" r="1.2" fill="#000"/>
<circle cx="284.4" cy="349.6" r="1.2" fill="#000"/>
<circle cx="292.8" cy="354.7" r="1.2" fill="#000"/>
<circle cx="300.3" cy="361.2" r="1.2" fill="#000"/>
<circle cx="308.4" cy="366.9" r="1.2" fill="#000"/>
<circle cx="315.3" cy="369.7" r="1.2" fill="#000"/>
<circle cx="324.1" cy="365.9" r="1.2" fill="#000"/>
<circle cx="331.6" cy="365.3" r="1.2" fill="#000"/>
<circle cx="335.9" cy="360.2" r="1.2" fill="#000"/>
<circle cx="340.6" cy="367.8" r="1.2" fill="#000"/>
<circle cx="348.5" cy="369.6" r="1.2" fill="#000"/>
<circle cx="356.0" cy="366.8" r="1.2" fill="#000"/>
<circle cx="364.4" cy="366.2" r="1.2" fill="#000"/>
<circle cx="370.2" cy="360.6" r="1.2" fill="#000"/>
<circle cx="375.9" cy="365.3" r="1.2" fill="#000"/>
<circle cx="382.2" cy="365.9" r="1.2" fill="#000"/>
<circle cx="388.4" cy="362.5" r="1.2" fill="#000"/>
<circle cx="395.0" cy="364.4" r="1.2" fill="#000"/>
<circle cx="402.5" cy="367.8" r="1.2" fill="#000"/>
<circle cx="411.9" cy="367.8" r="1.2" fill="#000"/>
<circle cx="422.2" cy="368.1" r="1.2" fill="#000"/>
<circle cx="428.8" cy="374.7" r="1.2" fill="#000"/>
<circle cx="435.3" cy="378.2" r="1.2" fill="#000"/>
<circle cx="457.6" cy="388.5" r="1.2" fill="#000"/>
<circle cx="465.8" cy="392.3" r="1.2" fill="#000"/>
<circle cx="470.9" cy="384.1" r="1.2" fill="#000"/>
<circle cx="475.6" cy="376.2" r="1.2" fill="#000"/>
<circle cx="484.1" cy="376.8" r="1.2" fill="#000"/>
<circle cx="491.6" cy="383.8" r="1.2" fill="#000"/>
<circle cx="500.9" cy="374.0" r="1.2" fill="#000"/>
<circle cx="504.7" cy="383.8" r="1.2" fill="#000"/>
<circle cx="512.2" cy="387.5" r="1.2" fill="#000"/>
<circle cx="520.2" cy="393.5" r="1.2" fill="#000"/>
<circle cx="527.2" cy="387.5" r="1.2" fill="#000"/>
<circle cx="535.2" cy="381.9" r="1.2" fill="#000"/>
<circle cx="550.6" cy="390.3" r="1.2" fill="#000"/>
<circle cx="557.2" cy="398.4" r="1.2" fill="#000"/>
<circle cx="563.4" cy="405.3" r="1.2" fill="#000"/>
<circle cx="575.0" cy="410.9" r="1.2" fill="#000"/>
<circle cx="584.0" cy="415.2" r="1.2" fill="#000"/>
<path d="M65.8 161.2 L74.0 165.0M89.5 160.0 L96.2 153.2M108.2 163.2 L114.5 165.5 L116.5 163.8M132.5 160.0 L139.5 153.8M149.0 147.0 L152.0 156.0M164.5 161.2 L170.0 168.8M177.0 184.2 L181.0 192.0M191.5 183.8 L195.0 175.0M200.2 159.2 L204.5 160.8 L206.2 166.2M212.8 180.5 L218.8 187.5M225.8 203.0 L233.5 196.8M244.5 185.8 L249.0 177.5M255.5 187.0 L258.0 190.5 L261.2 191.8M274.5 182.5 L278.0 185.0 L280.5 189.2M285.0 205.8 L288.2 213.8M299.5 203.0 L304.2 211.8M316.2 207.5 L321.8 200.0M332.0 203.0 L336.2 204.5 L339.5 208.8M353.8 203.0 L357.0 200.8 L361.5 203.2M365.0 219.5 L369.5 228.8M380.5 240.5 L389.0 243.8M404.5 246.2 L409.5 239.0M419.2 250.0 L425.8 243.0M433.2 254.5 L436.6 263.4M443.0 278.7 L449.8 285.0M461.6 295.7 L466.3 303.3M474.0 319.2 L482.7 316.1M490.0 330.0 L494.5 337.0M506.3 330.0 L512.0 322.4M524.9 326.0 L528.0 333.3M532.9 350.4 L535.3 358.6M542.7 373.3 L550.0 377.3M561.4 366.3 L567.0 360.0M577.3 356.0 L583.1 348.7" fill="none" stroke="#000" stroke-width="2.05" stroke-linejoin="round" stroke-linecap="round"/>
<polyline points="65.5,246.7 69.8,246.0 74.2,248.3 78.5,251.2 82.9,246.7 87.2,243.4 91.6,241.8 95.9,246.0 100.3,256.1 104.7,258.6 109.0,257.7 113.3,260.2 117.7,255.3 122.0,251.2 126.4,247.7 130.8,246.7 135.1,265.9 139.4,269.9 143.8,257.7 148.1,256.1 152.5,255.8 156.8,254.2 161.2,252.9 165.6,250.0 169.9,250.4 174.2,254.2 178.6,250.9 182.9,253.7 187.3,258.5 191.6,260.0 196.0,262.9 200.3,266.9 204.7,267.8 209.0,262.8 213.4,259.8 217.8,262.8 222.1,265.2 226.4,265.9 230.8,262.8 235.1,272.1 239.5,269.9 243.8,258.4 248.2,258.1 252.5,259.4 256.9,260.3 261.2,268.8 265.6,274.4 269.9,269.7 274.3,267.8 278.6,265.0 283.0,280.0 287.4,297.4 291.7,300.6 296.0,315.2 300.4,319.4 304.8,322.8 309.1,322.2 313.4,320.3 317.8,317.5 322.1,316.6" fill="none" stroke="#000" stroke-width="2.2" stroke-linejoin="round" stroke-linecap="round"/>
<line x1="326.3" x2="326.3" y1="509.5" y2="122.5" stroke="#a5a5a5" stroke-width="1.8" stroke-dasharray="10 16"/>
<rect x="65.5" y="122.5" width="522.0" height="387.0" fill="none" stroke="#000" stroke-width="1.1"/>
<g stroke="#000" stroke-width="1.1">
<line x1="59.5" x2="65.5" y1="509.50" y2="509.50"/>
<line x1="59.5" x2="65.5" y1="454.50" y2="454.50"/>
<line x1="59.5" x2="65.5" y1="398.50" y2="398.50"/>
<line x1="59.5" x2="65.5" y1="343.50" y2="343.50"/>
<line x1="59.5" x2="65.5" y1="288.50" y2="288.50"/>
<line x1="59.5" x2="65.5" y1="233.50" y2="233.50"/>
<line x1="59.5" x2="65.5" y1="177.50" y2="177.50"/>
<line x1="59.5" x2="65.5" y1="122.50" y2="122.50"/>
<line x1="161.50" x2="161.50" y1="509.5" y2="515.5"/>
<line x1="291.50" x2="291.50" y1="509.5" y2="515.5"/>
<line x1="426.50" x2="426.50" y1="509.5" y2="515.5"/>
<line x1="557.50" x2="557.50" y1="509.5" y2="515.5"/>
</g>
<text x="51.00" y="514.00" font-size="12.5" text-anchor="end" font-family='"DejaVu Sans", sans-serif' font-weight="normal" fill="#000" >40</text>
<text x="51.00" y="458.71" font-size="12.5" text-anchor="end" font-family='"DejaVu Sans", sans-serif' font-weight="normal" fill="#000" >45</text>
<text x="51.00" y="403.43" font-size="12.5" text-anchor="end" font-family='"DejaVu Sans", sans-serif' font-weight="normal" fill="#000" >50</text>
<text x="51.00" y="348.14" font-size="12.5" text-anchor="end" font-family='"DejaVu Sans", sans-serif' font-weight="normal" fill="#000" >55</text>
<text x="51.00" y="292.86" font-size="12.5" text-anchor="end" font-family='"DejaVu Sans", sans-serif' font-weight="normal" fill="#000" >60</text>
<text x="51.00" y="237.57" font-size="12.5" text-anchor="end" font-family='"DejaVu Sans", sans-serif' font-weight="normal" fill="#000" >65</text>
<text x="51.00" y="182.29" font-size="12.5" text-anchor="end" font-family='"DejaVu Sans", sans-serif' font-weight="normal" fill="#000" >70</text>
<text x="51.00" y="127.00" font-size="12.5" text-anchor="end" font-family='"DejaVu Sans", sans-serif' font-weight="normal" fill="#000" >75</text>
<text x="161.00" y="535.00" font-size="12.5" text-anchor="middle" font-family='"DejaVu Sans", sans-serif' font-weight="normal" fill="#000" textLength="35.03" lengthAdjust="spacing">Sep-1</text>
<text x="291.10" y="535.00" font-size="12.5" text-anchor="middle" font-family='"DejaVu Sans", sans-serif' font-weight="normal" fill="#000" textLength="33.33" lengthAdjust="spacing">Oct-1</text>
<text x="426.25" y="535.00" font-size="12.5" text-anchor="middle" font-family='"DejaVu Sans", sans-serif' font-weight="normal" fill="#000" textLength="35.03" lengthAdjust="spacing">Nov-1</text>
<text x="557.10" y="535.00" font-size="12.5" text-anchor="middle" font-family='"DejaVu Sans", sans-serif' font-weight="normal" fill="#000" textLength="35.9" lengthAdjust="spacing">Dec-1</text>
<text transform="rotate(-90)" x="-363.00" y="19.0" font-size="12" font-family='"DejaVu Sans Condensed", "DejaVu Sans", sans-serif' font-stretch="condensed" font-weight="bold" textLength="93.45" lengthAdjust="spacing">Temperature °F</text>
<text x="146.40" y="28.75" font-size="16.2" text-anchor="start" font-family='"Noto Sans", "Open Sans", "Liberation Sans", sans-serif' font-weight="bold" fill="#000" textLength="360.06" lengthAdjust="spacing">Stanislaus R at Orange Blossom Bridge (OBB)</text>
<text x="150.00" y="51.80" font-size="16.2" text-anchor="start" font-family='"Noto Sans", "Open Sans", "Liberation Sans", sans-serif' font-weight="bold" fill="#000" textLength="351.99" lengthAdjust="spacing">2000-2025 Daily Average Water Temperature</text>
<text x="225.20" y="74.90" font-size="16.2" text-anchor="start" font-family='"Noto Sans", "Open Sans", "Liberation Sans", sans-serif' font-weight="bold" fill="#000" textLength="201.99" lengthAdjust="spacing">Observed Range 43.0-73.0</text>
<text x="277.40" y="97.40" font-size="16.2" text-anchor="start" font-family='"Noto Sans", "Open Sans", "Liberation Sans", sans-serif' font-weight="bold" fill="#000" textLength="98.91" lengthAdjust="spacing">08/10 - 12/08</text>
<text x="643.90" y="133.80" font-size="12.5" text-anchor="end" font-family='"DejaVu Sans", sans-serif' font-weight="normal" fill="#000" >2000</text>
<line x1="651.5" x2="689.5" y1="129.4" y2="129.4" stroke="#d2691e" stroke-width="1.2"/>
<text x="643.90" y="148.80" font-size="12.5" text-anchor="end" font-family='"DejaVu Sans", sans-serif' font-weight="normal" fill="#000" >2001</text>
<line x1="651.5" x2="689.5" y1="144.4" y2="144.4" stroke="#00bfff" stroke-width="1.2"/>
<text x="643.90" y="163.80" font-size="12.5" text-anchor="end" font-family='"DejaVu Sans", sans-serif' font-weight="normal" fill="#000" >2002</text>
<line x1="651.5" x2="689.5" y1="159.4" y2="159.4" stroke="#3cb371" stroke-width="1.2"/>
<text x="643.90" y="178.80" font-size="12.5" text-anchor="end" font-family='"DejaVu Sans", sans-serif' font-weight="normal" fill="#000" >2003</text>
<line x1="651.5" x2="689.5" y1="174.4" y2="174.4" stroke="#e69f00" stroke-width="1.2"/>
<text x="643.90" y="193.80" font-size="12.5" text-anchor="end" font-family='"DejaVu Sans", sans-serif' font-weight="normal" fill="#000" >2004</text>
<line x1="651.5" x2="689.5" y1="189.4" y2="189.4" stroke="#0072b2" stroke-width="1.2"/>
<text x="643.90" y="208.80" font-size="12.5" text-anchor="end" font-family='"DejaVu Sans", sans-serif' font-weight="normal" fill="#000" >2005</text>
<line x1="651.5" x2="689.5" y1="204.4" y2="204.4" stroke="#e7298a" stroke-width="1.2"/>
<text x="643.90" y="223.80" font-size="12.5" text-anchor="end" font-family='"DejaVu Sans", sans-serif' font-weight="normal" fill="#000" >2006</text>
<line x1="651.5" x2="689.5" y1="219.4" y2="219.4" stroke="#9400d3" stroke-width="1.2"/>
<text x="643.90" y="238.80" font-size="12.5" text-anchor="end" font-family='"DejaVu Sans", sans-serif' font-weight="normal" fill="#000" >2007</text>
<line x1="651.5" x2="689.5" y1="234.4" y2="234.4" stroke="#696969" stroke-width="1.2"/>
<text x="643.90" y="253.80" font-size="12.5" text-anchor="end" font-family='"DejaVu Sans", sans-serif' font-weight="normal" fill="#000" >2008</text>
<line x1="651.5" x2="689.5" y1="249.4" y2="249.4" stroke="#d2691e" stroke-width="1.2"/>
<text x="643.90" y="268.80" font-size="12.5" text-anchor="end" font-family='"DejaVu Sans", sans-serif' font-weight="normal" fill="#000" >2009</text>
<line x1="651.5" x2="689.5" y1="264.4" y2="264.4" stroke="#00bfff" stroke-width="1.2"/>
<text x="643.90" y="283.80" font-size="12.5" text-anchor="end" font-family='"DejaVu Sans", sans-serif' font-weight="normal" fill="#000" >2010</text>
<line x1="651.5" x2="689.5" y1="279.4" y2="279.4" stroke="#3cb371" stroke-width="1.2"/>
<text x="643.90" y="298.80" font-size="12.5" text-anchor="end" font-family='"DejaVu Sans", sans-serif' font-weight="normal" fill="#000" >2011</text>
<circle cx="652.5" cy="294.4" r="1.2" fill="#000"/>
<circle cx="662.5" cy="294.4" r="1.2" fill="#000"/>
<circle cx="672.5" cy="294.4" r="1.2" fill="#000"/>
<circle cx="682.5" cy="294.4" r="1.2" fill="#000"/>
<text x="643.90" y="313.80" font-size="12.5" text-anchor="end" font-family='"DejaVu Sans", sans-serif' font-weight="normal" fill="#000" >2012</text>
<line x1="651.5" x2="689.5" y1="309.4" y2="309.4" stroke="#e69f00" stroke-width="1.2"/>
<text x="643.90" y="328.80" font-size="12.5" text-anchor="end" font-family='"DejaVu Sans", sans-serif' font-weight="normal" fill="#000" >2013</text>
<line x1="651.5" x2="689.5" y1="324.4" y2="324.4" stroke="#0072b2" stroke-width="1.2"/>
<text x="737.40" y="133.80" font-size="12.5" text-anchor="end" font-family='"DejaVu Sans", sans-serif' font-weight="normal" fill="#000" >2014</text>
<line x1="745.5" x2="783.5" y1="129.4" y2="129.4" stroke="#e7298a" stroke-width="1.2"/>
<text x="737.40" y="148.80" font-size="12.5" text-anchor="end" font-family='"DejaVu Sans", sans-serif' font-weight="normal" fill="#000" >2015</text>
<path d="M746.5 144.4h8M772.5 144.4h8" stroke="#000" stroke-width="2.05" stroke-linecap="round" fill="none"/>
<text x="737.40" y="163.80" font-size="12.5" text-anchor="end" font-family='"DejaVu Sans", sans-serif' font-weight="normal" fill="#000" >2016</text>
<line x1="745.5" x2="783.5" y1="159.4" y2="159.4" stroke="#9400d3" stroke-width="1.2"/>
<text x="737.40" y="178.80" font-size="12.5" text-anchor="end" font-family='"DejaVu Sans", sans-serif' font-weight="normal" fill="#000" >2017</text>
<line x1="745.5" x2="783.5" y1="174.4" y2="174.4" stroke="#696969" stroke-width="1.2"/>
<text x="737.40" y="193.80" font-size="12.5" text-anchor="end" font-family='"DejaVu Sans", sans-serif' font-weight="normal" fill="#000" >2018</text>
<line x1="745.5" x2="783.5" y1="189.4" y2="189.4" stroke="#d2691e" stroke-width="1.2"/>
<text x="737.40" y="208.80" font-size="12.5" text-anchor="end" font-family='"DejaVu Sans", sans-serif' font-weight="normal" fill="#000" >2019</text>
<line x1="745.5" x2="783.5" y1="204.4" y2="204.4" stroke="#00bfff" stroke-width="1.2"/>
<text x="737.40" y="223.80" font-size="12.5" text-anchor="end" font-family='"DejaVu Sans", sans-serif' font-weight="normal" fill="#000" >2020</text>
<line x1="745.5" x2="783.5" y1="219.4" y2="219.4" stroke="#3cb371" stroke-width="1.2"/>
<text x="737.40" y="238.80" font-size="12.5" text-anchor="end" font-family='"DejaVu Sans", sans-serif' font-weight="normal" fill="#000" >2021</text>
<line x1="745.5" x2="783.5" y1="234.4" y2="234.4" stroke="#e69f00" stroke-width="1.2"/>
<text x="737.40" y="253.80" font-size="12.5" text-anchor="end" font-family='"DejaVu Sans", sans-serif' font-weight="normal" fill="#000" >2022</text>
<line x1="745.5" x2="783.5" y1="249.4" y2="249.4" stroke="#0072b2" stroke-width="1.2"/>
<text x="737.40" y="268.80" font-size="12.5" text-anchor="end" font-family='"DejaVu Sans", sans-serif' font-weight="normal" fill="#000" >2023</text>
<line x1="745.5" x2="783.5" y1="264.4" y2="264.4" stroke="#e7298a" stroke-width="1.2"/>
<text x="737.40" y="283.80" font-size="12.5" text-anchor="end" font-family='"DejaVu Sans", sans-serif' font-weight="normal" fill="#000" >2024</text>
<line x1="745.5" x2="783.5" y1="279.4" y2="279.4" stroke="#9400d3" stroke-width="1.2"/>
<text x="737.40" y="298.80" font-size="12.5" text-anchor="end" font-family='"DejaVu Sans", sans-serif' font-weight="normal" fill="#000" >2025</text>
<line x1="746.5" x2="782.5" y1="294.4" y2="294.4" stroke="#000" stroke-width="2.2" stroke-linecap="round"/>
<text x="704.00" y="313.80" font-size="12.5" text-anchor="start" font-family='"DejaVu Sans", sans-serif' font-weight="normal" fill="#000" textLength="33.6" lengthAdjust="spacingAndGlyphs">Today</text>
<path d="M745.5 309.4h10M771.5 309.4h10" stroke="#a5a5a5" stroke-width="1.8" fill="none"/>
<text x="30.32" y="567.90" font-size="11.95" text-anchor="start" font-family='"DejaVu Sans", sans-serif' font-weight="normal" fill="#000" textLength="739.98" lengthAdjust="spacing">Year is start year of the Date Period. Black dotted line = min Date Period Mean. Black dashed line = max Date Period Mean.</text>
<text x="261.20" y="583.00" font-size="11.95" text-anchor="start" font-family='"DejaVu Sans", sans-serif' font-weight="normal" fill="#000" textLength="278.00" lengthAdjust="spacing">Data Source: California Data Exchange Center</text>
<text x="274.00" y="597.90" font-size="11.95" text-anchor="start" font-family='"DejaVu Sans", sans-serif' font-weight="normal" fill="#000" textLength="252.22" lengthAdjust="spacing">May contain erroneous data: 2005, 2024.</text>
<text x="7.50" y="585.60" font-size="11.95" text-anchor="start" font-family='"DejaVu Sans", sans-serif' font-weight="normal" fill="#3a4a54" textLength="232.58" lengthAdjust="spacing">www.cbr.washington.edu/sacramento/</text>
<text x="627.40" y="585.70" font-size="11.95" text-anchor="start" font-family='"DejaVu Sans", sans-serif' font-weight="normal" fill="#3a4a54" textLength="164.29" lengthAdjust="spacing">09 Oct 2025 07:05:10 PDT</text>
</svg>
</body></html>
